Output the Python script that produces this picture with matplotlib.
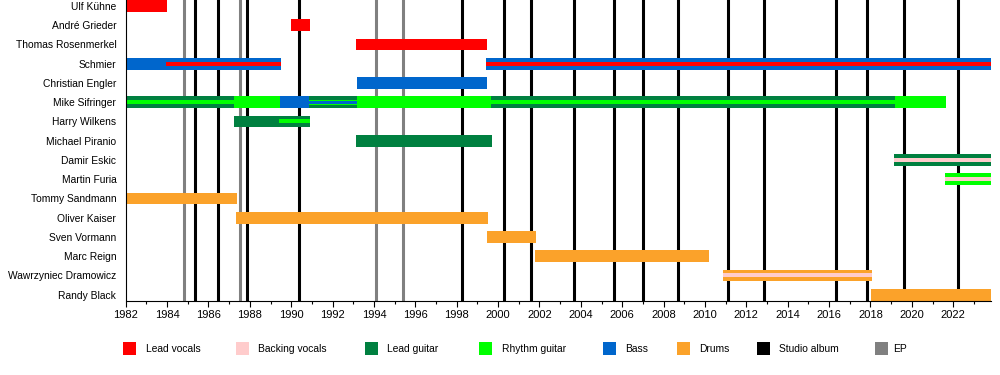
import matplotlib
matplotlib.use("Agg")
import matplotlib.pyplot as plt
from matplotlib.patches import Rectangle

plt.rcParams['font.family'] = ['Liberation Sans', 'DejaVu Sans']

# ---------------- data ----------------
members = ["Ulf Kühne", "André Grieder", "Thomas Rosenmerkel", "Schmier",
           "Christian Engler", "Mike Sifringer", "Harry Wilkens", "Michael Piranio",
           "Damir Eskic", "Martin Furia", "Tommy Sandmann", "Oliver Kaiser",
           "Sven Vormann", "Marc Reign", "Wawrzyniec Dramowicz", "Randy Black"]

START = 1982.0
END = 2023.81

# main bars
bar_member = ["Ulf Kühne", "André Grieder", "Thomas Rosenmerkel", "Schmier", "Schmier",
              "Christian Engler",
              "Mike Sifringer", "Mike Sifringer", "Mike Sifringer", "Mike Sifringer",
              "Mike Sifringer", "Mike Sifringer", "Mike Sifringer",
              "Harry Wilkens", "Michael Piranio", "Damir Eskic", "Martin Furia",
              "Tommy Sandmann", "Oliver Kaiser", "Sven Vormann", "Marc Reign",
              "Wawrzyniec Dramowicz", "Randy Black"]
bar_role = ["Lead vocals", "Lead vocals", "Lead vocals", "Bass", "Bass",
            "Bass",
            "Lead guitar", "Rhythm guitar", "Bass", "Lead guitar",
            "Rhythm guitar", "Lead guitar", "Rhythm guitar",
            "Lead guitar", "Lead guitar", "Lead guitar", "Rhythm guitar",
            "Drums", "Drums", "Drums", "Drums",
            "Drums", "Drums"]
bar_start = [1982.0, 1990.0, 1993.15, 1982.0, 1999.42,
             1993.18,
             1982.0, 1987.23, 1989.45, 1990.87,
             1993.18, 1999.64, 2019.18,
             1987.23, 1993.13, 2019.13, 2021.60,
             1982.0, 1987.33, 1999.46, 2001.80,
             2010.87, 2018.03]
bar_end = [1984.0, 1990.9, 1999.45, 1989.5, END,
           1999.46,
           1987.23, 1989.45, 1990.87, 1993.18,
           1999.64, 2019.18, 2021.63,
           1990.90, 1999.70, END, END,
           1987.38, 1999.50, 2001.83, 2010.19,
           2018.05, END]

# stripes (secondary roles)
stripe_member = ["Schmier", "Schmier", "Mike Sifringer", "Mike Sifringer", "Mike Sifringer",
                 "Harry Wilkens", "Damir Eskic", "Martin Furia", "Wawrzyniec Dramowicz"]
stripe_role = ["Lead vocals", "Lead vocals", "Rhythm guitar", "Rhythm guitar", "Rhythm guitar",
               "Rhythm guitar", "Backing vocals", "Backing vocals", "Backing vocals"]
stripe_start = [1983.95, 1999.42, 1982.0, 1990.87, 1999.64,
                1989.42, 2019.13, 2021.60, 2010.87]
stripe_end = [1989.5, END, 1987.23, 1993.18, 2019.18,
              1990.90, END, END, 2018.05]

# thin third-layer stripe
thin_member = ["Mike Sifringer"]
thin_role = ["Bass"]
thin_start = [1990.87]
thin_end = [1993.18]

studio_albums = [1985.36, 1986.48, 1987.88, 1990.39, 1998.27, 2000.28, 2001.60,
                 2003.68, 2005.62, 2007.02, 2008.69, 2011.12, 2012.87, 2016.33,
                 2017.84, 2019.60, 2022.24]
eps = [1984.83, 1987.52, 1994.11, 1995.42]

legend_labels = ["Lead vocals", "Backing vocals", "Lead guitar", "Rhythm guitar",
                 "Bass", "Drums", "Studio album", "EP"]

colors = {"Lead vocals": "#FF0000", "Backing vocals": "#FFCCCC",
          "Lead guitar": "#008040", "Rhythm guitar": "#00FF00",
          "Bass": "#0066CC", "Drums": "#FBA22A",
          "Studio album": "#000000", "EP": "#808080"}

# ---------------- figure ----------------
W, H = 1000, 375
fig = plt.figure(figsize=(W / 100, H / 100), dpi=100)
ax_left, ax_right = 125.7, 990.7
ax_top, ax_bottom = 0.0, 300.5
ax = fig.add_axes([ax_left / W, 1 - ax_bottom / H,
                   (ax_right - ax_left) / W, (ax_bottom - ax_top) / H])

row = {m: i for i, m in enumerate(members)}
BAR_H = 0.61
STRIPE_H = 0.21
THIN_H = 0.14

for y in studio_albums:
    ax.axvline(y, color=colors["Studio album"], lw=2.2, zorder=1)
for y in eps:
    ax.axvline(y, color=colors["EP"], lw=2.2, zorder=1)

ax.barh([row[m] for m in bar_member], [e - s for s, e in zip(bar_start, bar_end)],
        left=bar_start, height=BAR_H, color=[colors[r] for r in bar_role],
        linewidth=0, zorder=2)
stripe_h = [0.26 if (m == "Mike Sifringer" and s in thin_start) else STRIPE_H
            for m, s in zip(stripe_member, stripe_start)]
ax.barh([row[m] for m in stripe_member], [e - s for s, e in zip(stripe_start, stripe_end)],
        left=stripe_start, height=stripe_h, color=[colors[r] for r in stripe_role],
        linewidth=0, zorder=3)
ax.barh([row[m] for m in thin_member], [e - s for s, e in zip(thin_start, thin_end)],
        left=thin_start, height=THIN_H, color=[colors[r] for r in thin_role],
        linewidth=0, zorder=4)

ax.set_xlim(START, END)
ax.set_ylim(len(members) - 1 + 0.30, -0.31)

ax.set_yticks(range(len(members)))
ax.set_yticklabels(members, fontsize=7.4)
ax.tick_params(axis='y', length=0, pad=6.8)

ax.set_xticks(range(1982, 2023, 2))
ax.set_xticks(range(1982, 2024), minor=True)
ax.tick_params(axis='x', which='major', length=4, width=0.8, labelsize=8, pad=2.5)
ax.tick_params(axis='x', which='minor', length=2.5, width=0.8)

for s in ["top", "right"]:
    ax.spines[s].set_visible(False)
for s in ["left", "bottom"]:
    ax.spines[s].set_linewidth(0.8)
    ax.spines[s].set_zorder(5)

# ---------------- legend ----------------
sq_x = [122.7, 236.0, 365.0, 479.0, 603.0, 677.0, 756.7, 875.0]
tx_x = [145.7, 258.3, 387.0, 501.7, 625.0, 699.3, 779.0, 893.3]
sq = 13.0
sq_y = 342.3
for lab, sx, tx in zip(legend_labels, sq_x, tx_x):
    fig.patches.append(Rectangle((sx / W, 1 - (sq_y + sq) / H), sq / W, sq / H,
                                 transform=fig.transFigure, facecolor=colors[lab],
                                 edgecolor='none'))
    fig.text(tx / W, 1 - (sq_y + sq / 2) / H, lab, fontsize=7.4,
             ha='left', va='center')

fig.savefig("out.png", dpi=100)
